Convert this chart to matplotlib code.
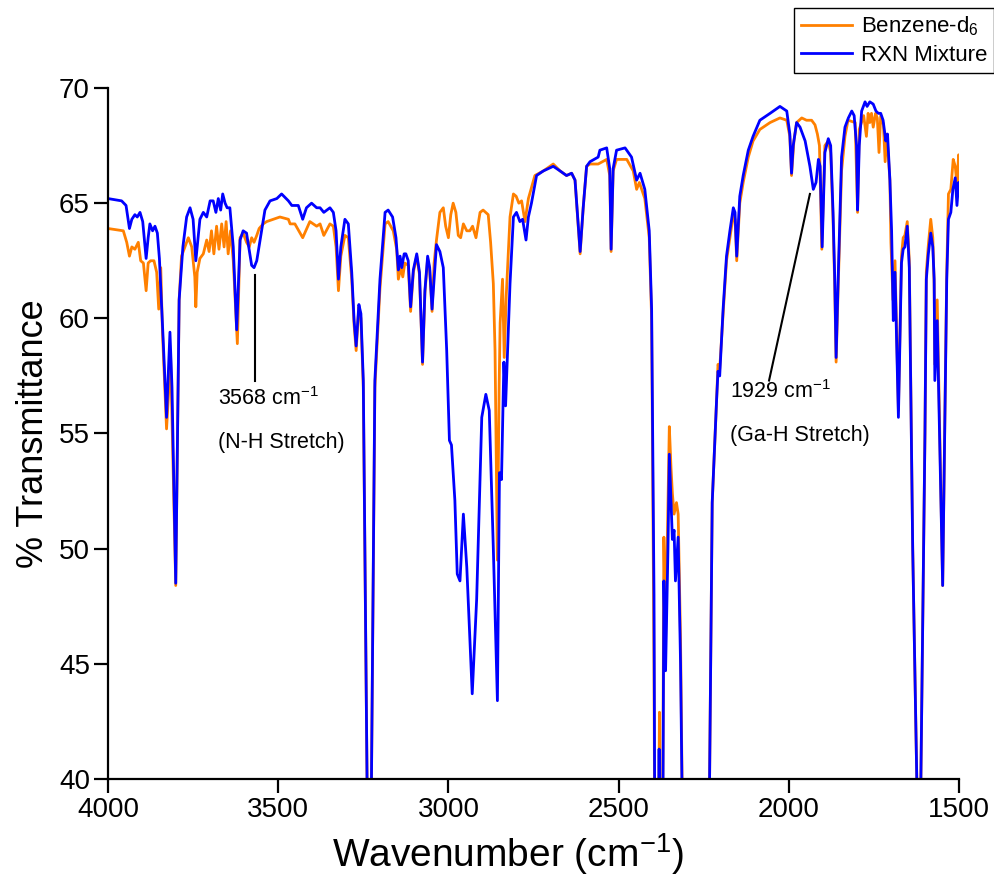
import numpy as np
import matplotlib
matplotlib.use("Agg")
import matplotlib.pyplot as plt

plt.rcParams['font.family'] = ['Liberation Sans', 'DejaVu Sans']
plt.rcParams['mathtext.fontset'] = 'custom'
plt.rcParams['mathtext.rm'] = 'Liberation Sans'
plt.rcParams['mathtext.it'] = 'Liberation Sans:italic'

# RXN Mixture (blue) - wavenumber / %T
rxn_wn = [4000, 3960, 3947, 3937, 3930, 3921, 3914, 3906, 3898, 3888, 3882, 3877, 3869, 3862, 3855, 3849,
          3838, 3828, 3823, 3818, 3812, 3801, 3791, 3780, 3769, 3759, 3750, 3742, 3730, 3720, 3710, 3700,
          3691, 3683, 3676, 3669, 3663, 3656, 3650, 3642, 3632, 3622, 3612, 3603, 3593, 3578, 3571, 3563,
          3549, 3539, 3524, 3504, 3490, 3470, 3460, 3441, 3428, 3417, 3402, 3387, 3377, 3366, 3348, 3338,
          3330, 3323, 3316, 3304, 3294, 3284, 3277, 3271, 3263, 3257, 3250, 3239, 3233, 3229, 3226, 3216,
          3201, 3186, 3177, 3164, 3154, 3147, 3142, 3137, 3130, 3125, 3118, 3111, 3103, 3093, 3085, 3076,
          3069, 3061, 3055, 3048, 3042, 3035, 3025, 3015, 3005, 2997, 2991, 2981, 2974, 2966, 2956, 2946,
          2930, 2917, 2902, 2890, 2880, 2868, 2856, 2850, 2844, 2837, 2832, 2826, 2819, 2809, 2800, 2790,
          2782, 2772, 2765, 2756, 2741, 2721, 2692, 2672, 2653, 2638, 2628, 2613, 2604, 2594, 2584, 2560,
          2555, 2535, 2526, 2522, 2516, 2506, 2481, 2462, 2447, 2437, 2423, 2410, 2403, 2396, 2392, 2386,
          2381, 2376, 2370, 2367, 2362, 2355, 2351, 2346, 2342, 2337, 2333, 2325, 2318, 2310, 2300, 2240,
          2234, 2225, 2212, 2208, 2203, 2193, 2183, 2173, 2163, 2158, 2153, 2144, 2134, 2119, 2105, 2085,
          2055, 2026, 2006, 1997, 1992, 1987, 1977, 1967, 1952, 1938, 1928, 1920, 1913, 1908, 1902, 1894,
          1884, 1877, 1870, 1865, 1861, 1855, 1845, 1835, 1825, 1815, 1808, 1801, 1798, 1793, 1786, 1776,
          1770, 1762, 1752, 1744, 1737, 1730, 1723, 1715, 1710, 1703, 1698, 1693, 1688, 1678, 1669, 1664,
          1659, 1652, 1646, 1636, 1624, 1618, 1612, 1600, 1596, 1590, 1583, 1577, 1573, 1571, 1564, 1548,
          1536, 1531, 1524, 1518, 1511, 1506, 1501, 1500]
rxn_t = [65.2, 65.1, 64.9, 63.9, 64.3, 64.5, 64.4, 64.6, 64.2, 62.6, 63.5, 64.1, 63.8, 64.0, 63.7, 62.6,
         59.1, 55.7, 57.5, 59.4, 57.0, 48.5, 60.8, 63.1, 64.4, 64.8, 64.3, 62.5, 64.3, 64.6, 64.4, 65.1,
         65.1, 64.6, 65.2, 64.7, 65.4, 65.0, 64.8, 64.8, 63.1, 59.5, 63.4, 63.8, 63.7, 62.3, 62.2, 62.5,
         63.8, 64.7, 65.1, 65.2, 65.4, 65.1, 64.9, 64.9, 64.3, 64.8, 65.0, 64.8, 64.8, 64.6, 64.8, 64.6,
         63.8, 61.7, 63.1, 64.3, 64.1, 62.0, 59.9, 58.8, 60.6, 60.2, 57.3, 40.0, 25.0, 25.0, 40.0, 57.3,
         61.7, 64.6, 64.7, 64.4, 63.5, 62.1, 62.7, 62.2, 62.8, 62.8, 62.5, 60.5, 62.1, 62.8, 62.0, 58.1,
         61.2, 62.7, 62.2, 60.4, 61.7, 63.2, 62.9, 62.2, 58.6, 54.7, 54.5, 52.1, 48.9, 48.6, 51.5, 49.2,
         43.7, 47.8, 55.7, 56.7, 56.0, 50.0, 43.4, 53.3, 53.0, 58.1, 56.2, 58.6, 61.5, 64.4, 64.6, 64.2,
         64.3, 63.4, 64.4, 65.0, 66.2, 66.4, 66.6, 66.4, 66.2, 66.3, 66.0, 62.9, 64.8, 66.6, 66.8, 67.0,
         67.3, 67.4, 66.5, 63.0, 66.5, 67.3, 67.4, 67.0, 66.0, 66.3, 65.6, 63.8, 60.4, 48.0, 30.0, 30.0,
         41.3, 30.0, 38.0, 48.6, 44.7, 50.0, 54.1, 52.0, 50.4, 50.8, 48.6, 50.5, 45.0, 35.0, 25.0, 25.0,
         38.0, 52.0, 56.5, 57.7, 57.5, 60.4, 62.7, 63.8, 64.8, 64.6, 62.7, 65.3, 66.2, 67.3, 67.9, 68.6,
         68.9, 69.2, 69.0, 68.0, 66.3, 67.5, 68.5, 68.3, 67.7, 66.6, 65.6, 65.9, 66.9, 66.6, 63.1, 67.2,
         67.8, 67.5, 64.6, 61.7, 58.3, 61.7, 67.0, 68.3, 68.7, 69.0, 68.8, 67.5, 64.7, 67.5, 69.0, 69.4,
         69.2, 69.4, 69.3, 69.0, 68.9, 68.9, 68.6, 67.7, 68.0, 66.0, 63.8, 59.9, 62.0, 55.7, 62.4, 63.0,
         63.1, 64.0, 62.2, 50.0, 40.0, 25.0, 40.0, 55.0, 61.7, 62.8, 63.7, 63.1, 61.7, 57.3, 59.9, 48.4,
         61.7, 64.3, 64.6, 65.6, 66.1, 64.9, 65.9, 65.4]

# Benzene-d6 (orange)
bz_wn = [4000, 3955, 3945, 3937, 3930, 3921, 3911, 3904, 3896, 3888, 3882, 3875, 3865, 3857, 3851, 3845,
         3840, 3828, 3816, 3801, 3791, 3784, 3774, 3764, 3754, 3745, 3742, 3738, 3730, 3720, 3710, 3703,
         3696, 3689, 3681, 3674, 3666, 3659, 3653, 3647, 3640, 3632, 3620, 3612, 3603, 3593, 3585, 3578,
         3571, 3563, 3556, 3544, 3534, 3514, 3495, 3470, 3465, 3451, 3428, 3407, 3387, 3377, 3366, 3348,
         3338, 3330, 3323, 3316, 3304, 3294, 3284, 3277, 3271, 3263, 3257, 3250, 3239, 3233, 3229, 3226,
         3216, 3201, 3186, 3177, 3162, 3152, 3147, 3140, 3134, 3128, 3118, 3111, 3103, 3093, 3085, 3076,
         3069, 3061, 3055, 3048, 3042, 3035, 3025, 3015, 3008, 3000, 2993, 2986, 2978, 2971, 2964, 2956,
         2946, 2937, 2929, 2919, 2907, 2898, 2883, 2876, 2868, 2863, 2856, 2851, 2848, 2841, 2836, 2830,
         2819, 2809, 2801, 2793, 2785, 2775, 2765, 2746, 2721, 2692, 2672, 2653, 2638, 2628, 2613, 2604,
         2594, 2584, 2560, 2535, 2526, 2522, 2516, 2506, 2476, 2457, 2447, 2439, 2423, 2410, 2403, 2396,
         2392, 2386, 2380, 2376, 2370, 2367, 2362, 2355, 2351, 2346, 2342, 2337, 2330, 2325, 2318, 2310,
         2300, 2240, 2234, 2225, 2212, 2208, 2203, 2193, 2183, 2173, 2163, 2158, 2153, 2144, 2134, 2119,
         2105, 2085, 2055, 2026, 2006, 1997, 1992, 1985, 1977, 1962, 1948, 1933, 1923, 1916, 1910, 1903,
         1894, 1884, 1877, 1870, 1865, 1861, 1855, 1845, 1835, 1826, 1805, 1798, 1793, 1780, 1772, 1767,
         1762, 1757, 1752, 1745, 1740, 1735, 1730, 1722, 1717, 1712, 1703, 1700, 1694, 1688, 1678, 1669,
         1664, 1659, 1652, 1646, 1636, 1624, 1618, 1612, 1600, 1596, 1590, 1583, 1577, 1573, 1571, 1564,
         1548, 1536, 1531, 1524, 1517, 1511, 1506, 1501, 1500]
bz_t = [63.9, 63.8, 63.3, 62.7, 63.1, 63.0, 63.3, 62.5, 62.4, 61.2, 62.4, 62.5, 62.5, 62.0, 60.4, 62.2,
        59.4, 55.2, 58.3, 48.4, 60.8, 62.7, 63.1, 63.5, 63.1, 61.8, 60.5, 62.0, 62.6, 62.8, 63.4, 62.9,
        63.8, 62.8, 64.0, 63.0, 64.1, 63.1, 64.2, 62.8, 63.8, 62.5, 58.9, 63.5, 63.7, 63.3, 63.1, 63.5,
        63.3, 63.6, 63.9, 64.1, 64.2, 64.3, 64.4, 64.3, 64.1, 64.1, 63.5, 64.2, 64.0, 64.1, 63.6, 64.1,
        64.0, 63.1, 61.2, 62.7, 63.6, 63.5, 61.7, 59.7, 58.6, 60.5, 60.0, 57.0, 40.0, 25.0, 25.0, 40.0,
        57.0, 61.3, 64.1, 64.2, 63.8, 63.0, 61.7, 62.2, 61.8, 62.4, 62.3, 60.3, 62.0, 62.7, 61.9, 58.0,
        61.1, 62.6, 62.1, 60.3, 62.4, 63.4, 64.6, 64.8, 64.0, 63.5, 64.5, 65.0, 64.6, 63.6, 63.5, 64.1,
        63.8, 63.8, 64.0, 63.5, 64.6, 64.7, 64.5, 63.3, 61.5, 58.6, 49.5, 57.0, 59.8, 61.7, 58.3, 61.0,
        64.4, 65.4, 65.3, 65.0, 65.1, 64.2, 65.2, 66.2, 66.4, 66.7, 66.4, 66.2, 66.3, 66.0, 62.8, 64.8,
        66.6, 66.7, 66.7, 66.9, 66.2, 62.9, 66.4, 66.9, 66.9, 66.4, 65.6, 65.9, 65.2, 63.5, 60.0, 45.0,
        30.0, 30.0, 42.9, 30.0, 40.0, 50.5, 46.0, 52.0, 55.3, 53.5, 52.4, 51.5, 52.0, 51.5, 46.0, 35.0,
        25.0, 25.0, 38.0, 52.0, 56.5, 58.0, 57.8, 60.2, 62.5, 63.5, 64.5, 64.3, 62.5, 65.0, 65.9, 67.0,
        67.7, 68.2, 68.5, 68.7, 68.6, 67.9, 66.2, 67.7, 68.5, 68.7, 68.6, 68.6, 68.4, 68.0, 67.5, 63.0,
        67.5, 67.7, 67.2, 64.3, 61.3, 58.1, 61.3, 66.4, 67.9, 68.6, 68.5, 64.6, 68.2, 68.8, 67.9, 68.9,
        68.5, 68.9, 68.3, 68.9, 68.7, 67.2, 68.8, 68.4, 66.8, 68.0, 66.0, 63.3, 60.8, 62.5, 56.0, 62.7,
        63.5, 63.6, 64.2, 62.5, 50.0, 40.0, 25.0, 40.0, 55.0, 62.0, 63.2, 64.3, 63.5, 61.5, 58.0, 60.8,
        48.4, 62.0, 65.4, 65.6, 66.9, 66.6, 65.8, 67.1, 66.0]

xticks = [4000, 3500, 3000, 2500, 2000, 1500]
yticks = [40, 45, 50, 55, 60, 65, 70]

fig = plt.figure(figsize=(9.94, 8.88), dpi=100)
ax = fig.add_axes([108/994, 1 - 779/888, (959 - 108)/994, (779 - 88)/888])

ax.plot(bz_wn, bz_t, color='#ff8000', lw=2.0, label='Benzene-d$_6$')
ax.plot(rxn_wn, rxn_t, color='#0000ff', lw=2.0, label='RXN Mixture')

# annotations
ax.plot([3568, 3568], [61.9, 57.3], color='k', lw=1.5)
ax.plot([2058, 1938], [57.3, 65.4], color='k', lw=1.5)
ax.text(3677, 56.5, '3568 cm$^{-1}$', fontsize=15.5, va='center', ha='left')
ax.text(3677, 54.6, '(N-H Stretch)', fontsize=15.5, va='center', ha='left')
ax.text(2173, 56.8, '1929 cm$^{-1}$', fontsize=15.5, va='center', ha='left')
ax.text(2173, 54.9, '(Ga-H Stretch)', fontsize=15.5, va='center', ha='left')

ax.set_xlim(4000, 1500)
ax.set_ylim(40, 70)
ax.set_xticks(xticks)
ax.set_yticks(yticks)
for s in ['top', 'right']:
    ax.spines[s].set_visible(False)
for s in ['left', 'bottom']:
    ax.spines[s].set_linewidth(1.6)
ax.tick_params(direction='out', length=10, width=1.6, labelsize=20, pad=3)
ax.set_xlabel('Wavenumber (cm$^{-1}$)', fontsize=28, labelpad=6)
ax.xaxis.set_label_coords(0.47, -0.075)
ax.set_ylabel('% Transmittance', fontsize=26, labelpad=6)

leg = fig.legend(loc='upper left', bbox_to_anchor=(794/994, 1 - 8/888), fontsize=16,
                 frameon=True, fancybox=False, framealpha=1, edgecolor='black',
                 handlelength=2.3, handletextpad=0.4, borderpad=0.3, labelspacing=0.3,
                 borderaxespad=0)
leg.get_frame().set_linewidth(1.0)

fig.savefig('out.png', dpi=100)
